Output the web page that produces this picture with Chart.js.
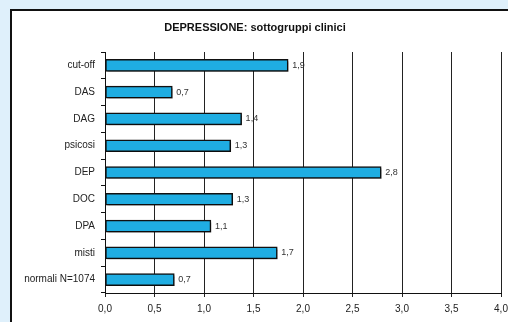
<!DOCTYPE html>
<html>
<head>
<meta charset="utf-8">
<script src="https://cdn.jsdelivr.net/npm/chart.js@4"></script>
<style>
  html, body { margin: 0; padding: 0; background: #dff0fb; }
  #wrap { width: 508px; height: 322px; position: relative; }
  canvas { display: block; }
</style>
</head>
<body>
<div id="wrap"><canvas id="c" width="508" height="322"></canvas></div>
<script>
// Sottogruppi clinici e punteggi medi di depressione
const categories = ['cut-off', 'DAS', 'DAG', 'psicosi', 'DEP', 'DOC', 'DPA', 'misti', 'normali N=1074'];
const scores = [1.85, 0.68, 1.38, 1.27, 2.79, 1.29, 1.07, 1.74, 0.70];
const xTicks = [0, 0.5, 1, 1.5, 2, 2.5, 3, 3.5, 4];
const titleText = 'DEPRESSIONE: sottogruppi clinici';

const fmt = v => v.toFixed(1).replace('.', ',');

// Pannello bianco con bordo e titolo
const panelPlugin = {
  id: 'panel',
  beforeDraw(chart) {
    const ctx = chart.ctx;
    ctx.save();
    ctx.fillStyle = '#ffffff';
    ctx.fillRect(10, 9, chart.width - 10, chart.height - 9);
    ctx.strokeStyle = '#111111';
    ctx.lineWidth = 2;
    ctx.beginPath();
    ctx.moveTo(11, chart.height);
    ctx.lineTo(11, 10);
    ctx.lineTo(chart.width, 10);
    ctx.stroke();
    ctx.fillStyle = '#111111';
    ctx.font = 'bold 11px "Liberation Sans", Arial, sans-serif';
    ctx.textAlign = 'center';
    ctx.textBaseline = 'middle';
    ctx.fillText(titleText, 255, 28);
    ctx.restore();
  }
};

// Ombra sotto le barre
const shadowPlugin = {
  id: 'barShadow',
  beforeDatasetDraw(chart) {
    const ctx = chart.ctx;
    ctx.save();
    ctx.shadowColor = 'rgba(0,0,0,0.25)';
    ctx.shadowOffsetX = 2;
    ctx.shadowOffsetY = 2;
    ctx.shadowBlur = 0;
  },
  afterDatasetDraw(chart) {
    chart.ctx.restore();
  }
};

// Etichette dei valori a destra delle barre
const valueLabels = {
  id: 'valueLabels',
  afterDatasetsDraw(chart) {
    const ctx = chart.ctx;
    const meta = chart.getDatasetMeta(0);
    ctx.save();
    ctx.fillStyle = '#333333';
    ctx.font = '9px "Liberation Sans", Arial, sans-serif';
    ctx.textAlign = 'left';
    ctx.textBaseline = 'middle';
    meta.data.forEach((bar, i) => {
      ctx.fillText(fmt(scores[i]), bar.x + 4, bar.y);
    });
    ctx.restore();
  }
};

new Chart(document.getElementById('c'), {
  type: 'bar',
  data: {
    labels: categories,
    datasets: [{
      data: scores,
      backgroundColor: '#1fade2',
      borderColor: '#111111',
      borderWidth: 1.5,
      borderSkipped: false,
      barThickness: 12
    }]
  },
  options: {
    indexAxis: 'y',
    responsive: false,
    devicePixelRatio: 1,
    animation: false,
    layout: { padding: { left: 10, right: 7, top: 52, bottom: 0 } },
    plugins: {
      legend: { display: false },
      title: { display: false },
      tooltip: { enabled: false }
    },
    scales: {
      x: {
        type: 'linear',
        min: 0,
        max: 4,
        afterBuildTicks(scale) {
          scale.ticks = xTicks.map(v => ({ value: v }));
        },
        afterFit(scale) {
          scale.height = 29;
          scale.paddingLeft = 0;
          scale.paddingRight = 0;
        },
        ticks: {
          callback: v => fmt(v),
          color: '#222222',
          font: { family: '"Liberation Sans", Arial, sans-serif', size: 10 },
          padding: 6,
          maxRotation: 0
        },
        grid: {
          color: '#222222',
          lineWidth: 1,
          tickLength: 4,
          drawTicks: true
        },
        border: { display: true, color: '#111111', width: 1 }
      },
      y: {
        afterFit(scale) {
          scale.width = 95;
        },
        ticks: {
          color: '#222222',
          font: { family: '"Liberation Sans", Arial, sans-serif', size: 10 },
          padding: 6
        },
        grid: {
          offset: true,
          drawOnChartArea: false,
          color: '#111111',
          tickLength: 4
        },
        border: { display: true, color: '#111111', width: 1 }
      }
    }
  },
  plugins: [panelPlugin, shadowPlugin, valueLabels]
});
</script>
</body>
</html>
